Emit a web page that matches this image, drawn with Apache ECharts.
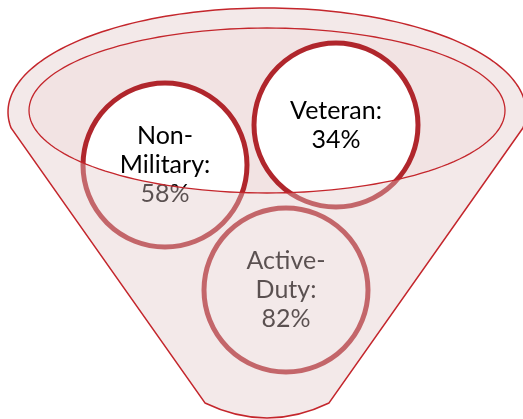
<!DOCTYPE html>
<html>
<head>
    <meta charset="UTF-8">
    <title>Funnel</title>
    <script src="https://cdn.jsdelivr.net/npm/echarts@6/dist/echarts.min.js"></script>
    <style>
        html, body { margin: 0; padding: 0; background: #fff; }
        #chart { width: 523px; height: 419px; }
    </style>
</head>
<body>
    <div id="chart"></div>

<script type="text/javascript">
    // data
    var categories = ['Non-\nMilitary', 'Veteran', 'Active-\nDuty'];
    var shares = [58, 34, 82];

    // layout: circle centres in axis units (= px here)
    var centreX = [165, 336, 286];
    var centreY = [165, 125, 290];

    // funnel geometry
    var rimOuter = { cx: 267, cy: 112, rx: 259, ry: 104 };
    var rimInner = { cx: 267, cy: 110.5, rx: 238, ry: 82.5 };
    var sideY = 128, neckY = 403, neckHalf = 62, bottomCtrlY = 433;

    var myChart = echarts.init(document.getElementById('chart'));

    function ellipsePts(api, e, t0, t1, n) {
        var pts = [];
        for (var i = 0; i <= n; i++) {
            var t = t0 + (t1 - t0) * i / n;
            pts.push(api.coord([e.cx + e.rx * Math.cos(t), e.cy + e.ry * Math.sin(t)]));
        }
        return pts;
    }

    function funnelPath(api, withHole) {
        var a = Math.asin((sideY - rimOuter.cy) / rimOuter.ry);
        var top = ellipsePts(api, rimOuter, Math.PI - a, 2 * Math.PI + a, 120);
        var d = 'M' + top[0][0] + ' ' + top[0][1];
        for (var i = 1; i < top.length; i++) d += 'L' + top[i][0] + ' ' + top[i][1];
        var r = api.coord([rimOuter.cx + neckHalf, neckY]);
        var c = api.coord([rimOuter.cx, bottomCtrlY]);
        var l = api.coord([rimOuter.cx - neckHalf, neckY]);
        d += 'L' + r[0] + ' ' + r[1] + 'Q' + c[0] + ' ' + c[1] + ' ' + l[0] + ' ' + l[1] + 'Z';
        if (withHole) {
            var hole = ellipsePts(api, rimInner, 2 * Math.PI, 0, 120);
            d += 'M' + hole[0][0] + ' ' + hole[0][1];
            for (var j = 1; j < hole.length; j++) d += 'L' + hole[j][0] + ' ' + hole[j][1];
            d += 'Z';
        }
        return d;
    }

    var option = {
        animation: false,
        grid: { left: 0, right: 0, top: 0, bottom: 0 },
        xAxis: { type: 'value', min: 0, max: 523, show: false },
        yAxis: { type: 'value', min: 0, max: 419, inverse: true, show: false },
        series: [
            {
                // inside of the funnel opening
                type: 'custom',
                z: 1,
                silent: true,
                data: [0],
                renderItem: function (params, api) {
                    return {
                        type: 'polygon',
                        shape: { points: ellipsePts(api, rimInner, 0, 2 * Math.PI, 160) },
                        style: { fill: '#f2e3e3' }
                    };
                }
            },
            {
                type: 'scatter',
                z: 2,
                silent: true,
                symbol: 'circle',
                symbolSize: 164,
                itemStyle: { color: '#ffffff', borderColor: '#b0262c', borderWidth: 5, opacity: 1 },
                label: {
                    show: true,
                    position: 'inside',
                    fontFamily: 'Lato',
                    fontSize: 25,
                    lineHeight: 29,
                    color: '#000',
                    formatter: function (p) { return p.name + ':\n' + p.value[2] + '%'; }
                },
                emphasis: { disabled: true },
                data: categories.map(function (c, i) {
                    return { name: c, value: [centreX[i], centreY[i], shares[i]] };
                })
            },
            {
                // front of the funnel, see-through, with outlines
                type: 'custom',
                z: 3,
                silent: true,
                data: [0],
                renderItem: function (params, api) {
                    return {
                        type: 'group',
                        children: [
                            {
                                type: 'path',
                                shape: { pathData: funnelPath(api, true) },
                                style: { fill: 'rgba(225,200,200,0.4)', stroke: null }
                            },
                            {
                                type: 'path',
                                shape: { pathData: funnelPath(api, false) },
                                style: { fill: null, stroke: '#c4262c', lineWidth: 1.5 }
                            },
                            {
                                type: 'polygon',
                                shape: { points: ellipsePts(api, rimInner, 0, 2 * Math.PI, 160) },
                                style: { fill: null, stroke: '#c4262c', lineWidth: 1.3 }
                            }
                        ]
                    };
                }
            }
        ]
    };
    myChart.setOption(option);
</script>
</body>
</html>
